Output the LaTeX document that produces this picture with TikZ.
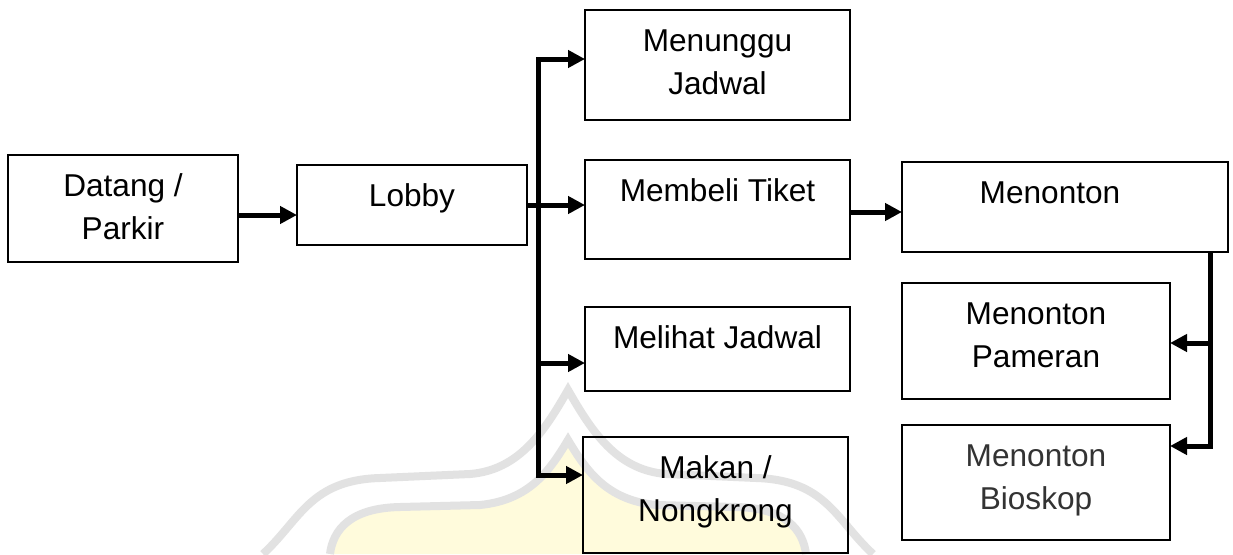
\documentclass[tikz,border=0pt]{standalone}
\usepackage{fontspec}
\setmainfont{Liberation Sans}
\usetikzlibrary{arrows.meta}

% box content: fixed-size frame, text hanging from the top edge
\newcommand{\boxtext}[3]{\parbox[c][#2][t]{#1}{\centering\rule{0pt}{41pt}#3\par}}

\definecolor{wmgray}{HTML}{E2E2E2}
\definecolor{wmyellow}{HTML}{FFFBDC}

\tikzset{
  stepbox/.style={draw=black, line width=1.6pt, inner sep=0pt, outer sep=0pt,
                  anchor=north west, font=\fontsize{31.6}{43}\selectfont},
  flow/.style={line width=5pt, line join=miter,
               -{Triangle[length=17pt,width=17pt]}},
  wmband/.style={draw=wmgray, line width=8pt, line cap=butt},
}

\begin{document}
\begin{tikzpicture}[x=1pt, y=-1pt]
  \useasboundingbox (0,0) rectangle (1233,554);
  \fill[white] (0,0) rectangle (1233,554);

  % faint logo behind the chart
  \fill[wmyellow] (330,554) .. controls (333,530) and (350,508) .. (400,507)
        -- (480,505) .. controls (530,500) and (550,470) .. (568,440)
        .. controls (586,470) and (606,500) .. (656,505)
        -- (736,507) .. controls (786,508) and (803,530) .. (806,554) -- cycle;
  \draw[wmband] (263,554) .. controls (300,520) and (310,480) .. (380,478)
        -- (470,474) .. controls (520,470) and (545,430) .. (568,390)
        .. controls (591,430) and (616,470) .. (666,474)
        -- (756,478) .. controls (826,480) and (836,520) .. (873,554);
  \draw[wmband] (330,554) .. controls (333,530) and (350,508) .. (400,507)
        -- (480,505) .. controls (530,500) and (550,470) .. (568,440)
        .. controls (586,470) and (606,500) .. (656,505)
        -- (736,507) .. controls (786,508) and (803,530) .. (806,554);

  % boxes
  \node[stepbox] (datang)   at (8,155)   {\boxtext{230pt}{107pt}{Datang /\\Parkir}};
  \node[stepbox] (lobby)    at (297,165) {\boxtext{230pt}{80pt}{Lobby}};
  \node[stepbox] (menunggu) at (585,10)  {\boxtext{265pt}{110pt}{Menunggu\\Jadwal}};
  \node[stepbox] (membeli)  at (585,160) {\boxtext{265pt}{99pt}{Membeli Tiket}};
  \node[stepbox] (melihat)  at (585,307) {\boxtext{265pt}{84pt}{Melihat Jadwal}};
  \node[stepbox] (makan)    at (583,437) {\boxtext{265pt}{116pt}{Makan /\\Nongkrong}};
  \node[stepbox] (menonton) at (902,162) {\boxtext{326pt}{90pt}{\hspace*{-30pt}Menonton}};
  \node[stepbox] (pameran)  at (902,283) {\boxtext{268pt}{116pt}{Menonton\\Pameran}};
  \node[stepbox] (bioskop)  at (902,425) {\boxtext{268pt}{115pt}{\color{black!80}Menonton\\Bioskop}};

  % bus lines
  \coordinate (bustop) at (538,59);
  \coordinate (busmid) at (538,363);
  \coordinate (busbot) at (538,475);
  \coordinate (rbusmid) at (1210,343);
  \coordinate (rbusbot) at (1210,446);

  % connectors
  \draw[flow] ([yshift=-6.5pt]datang.east) -- ([yshift=-6.5pt]datang.east -| lobby.west);
  \draw[flow] (lobby.east) -- (lobby.east -| membeli.west);
  \draw[flow] (busbot) -- (bustop) -- (bustop -| menunggu.west);
  \draw[flow] (bustop) -- (busbot) -- (busbot -| makan.west);
  \draw[flow] (busmid) -- (busmid -| melihat.west);
  \draw[flow] ([yshift=-2.5pt]membeli.east) -- ([yshift=-2.5pt]membeli.east -| menonton.west);
  \draw[flow] (rbusbot |- menonton.south) -- (rbusbot) -- (rbusbot -| bioskop.east);
  \draw[flow] (rbusmid) -- (rbusmid -| pameran.east);
\end{tikzpicture}
\end{document}
